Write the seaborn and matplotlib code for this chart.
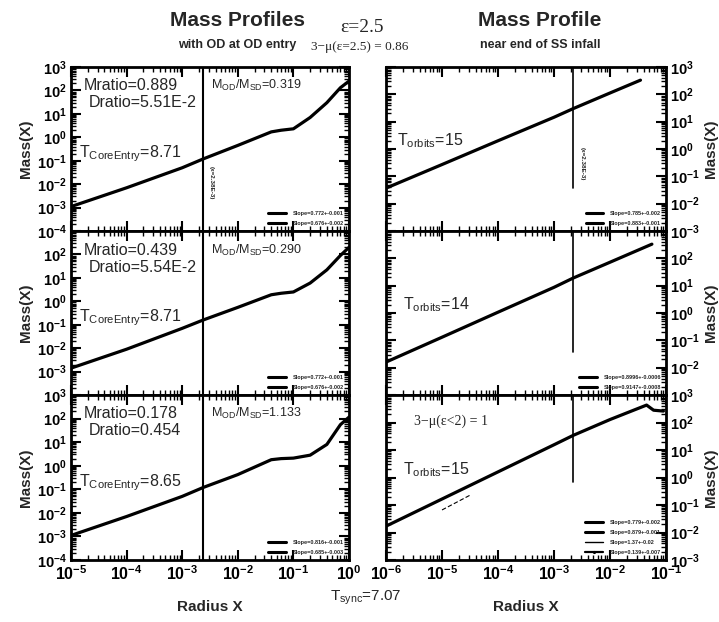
import numpy as np
import matplotlib
matplotlib.use("Agg")
import matplotlib.pyplot as plt
from matplotlib.lines import Line2D
from matplotlib.ticker import LogLocator, FixedLocator, FuncFormatter, NullFormatter
import seaborn as sns

# ---- data -------------------------------------------------------------
# Left column: profiles at core entry (radius X, enclosed mass)
r_core = [1e-5, 1e-4, 1e-3, 2.4e-3, 1e-2, 4e-2, 6e-2, 0.1, 0.2, 0.4, 0.7, 1.0]
m_core_top = [1.1e-3, 7e-3, 5e-2, 0.12, 0.45, 1.7, 2.0, 2.3, 7.0, 30, 130, 250]
m_core_mid = [1.4e-3, 9e-3, 7e-2, 0.16, 0.55, 1.9, 2.2, 2.5, 6.0, 22, 90, 200]
m_core_bot = [1.1e-3, 7e-3, 5e-2, 0.12, 0.42, 1.8, 2.0, 2.1, 2.8, 8.0, 55, 115]

# Right column: profiles near the end of infall
r_orb_top = [1e-6, 1e-5, 1e-4, 1e-3, 2.2e-3, 1e-2, 3.5e-2]
m_orb_top = [0.037, 0.27, 2.0, 14.5, 30, 112, 330]
r_orb_mid = [1e-6, 1e-5, 1e-4, 1e-3, 2.2e-3, 1e-2, 5.6e-2]
m_orb_mid = [0.016, 0.13, 1.07, 8.7, 19, 72, 330]
r_orb_bot = [1e-6, 1e-5, 1e-4, 1e-3, 2.2e-3, 1e-2, 4.5e-2, 6e-2, 9e-2]
m_orb_bot = [0.017, 0.165, 1.6, 15.5, 34, 128, 430, 280, 260]
r_orb_bot_fit = [1e-5, 3.2e-5]
m_orb_bot_fit = [0.066, 0.23]

# Core-entry radius markers
x_entry_left = 2.4e-3
x_entry_right = 2.2e-3

# Annotations
left_notes = [
    ("Mratio=0.889", "Dratio=5.51E-2", "8.71", "0.319"),
    ("Mratio=0.439", "Dratio=5.54E-2", "8.71", "0.290"),
    ("Mratio=0.178", "Dratio=0.454", "8.65", "1.133"),
]
right_torb = ["15", "14", "15"]
left_legend = [
    ["Slope=0.772+-0.001", "Slope=0.676+-0.002"],
    ["Slope=0.772+-0.001", "Slope=0.676+-0.002"],
    ["Slope=0.816+-0.001", "Slope=0.685+-0.003"],
]
right_legend = [
    ["Slope=0.785+-0.002", "Slope=0.883+-0.001"],
    ["Slope=0.8996+-0.0006", "Slope=0.9147+-0.0008"],
    ["Slope=0.779+-0.002", "Slope=0.879+-0.001", "Slope=1.37+-0.02", "Slope=0.139+-0.007"],
]

# ---- style ------------------------------------------------------------
sns.set_style("ticks")
plt.rcParams["font.family"] = ["Liberation Sans", "DejaVu Sans"]
plt.rcParams["mathtext.fontset"] = "custom"
plt.rcParams["mathtext.rm"] = "Liberation Sans"
plt.rcParams["mathtext.it"] = "Liberation Sans"
plt.rcParams["mathtext.bf"] = "Liberation Sans:bold"

fig = plt.figure(figsize=(7.19, 6.22), dpi=100)
W, H = 719.0, 622.0
rows = [(67, 231), (231, 395), (395, 560)]
cols = [(71, 349), (386, 666)]


def make_ax(col, row):
    x0, x1 = cols[col]
    y0, y1 = rows[row]
    return fig.add_axes([x0 / W, 1 - y1 / H, (x1 - x0) / W, (y1 - y0) / H])


def pow_fmt(v, pos):
    e = int(round(np.log10(v)))
    return r"$\mathbf{10^{%d}}$" % e


def style_log(ax, xlim, ylim, inner_only=False, right=False, show_x=False):
    ax.set_xscale("log")
    ax.set_yscale("log")
    ax.set_xlim(*xlim)
    ax.set_ylim(*ylim)
    lo, hi = int(round(np.log10(ylim[0]))), int(round(np.log10(ylim[1])))
    ax.xaxis.set_major_locator(LogLocator(base=10, numticks=20))
    if inner_only:
        # the end decades sit on the panel borders and are labelled by the neighbours
        ax.yaxis.set_major_locator(FixedLocator([10.0 ** e for e in range(lo + 1, hi)]))
    else:
        ax.yaxis.set_major_locator(LogLocator(base=10, numticks=20))
    ax.xaxis.set_minor_locator(LogLocator(base=10, subs=np.arange(2, 10), numticks=50))
    ax.yaxis.set_minor_locator(LogLocator(base=10, subs=np.arange(2, 10), numticks=50))
    ax.yaxis.set_major_formatter(FuncFormatter(pow_fmt))
    ax.yaxis.set_minor_formatter(NullFormatter())
    if show_x:
        ax.xaxis.set_major_formatter(FuncFormatter(pow_fmt))
    else:
        ax.xaxis.set_major_formatter(NullFormatter())
    ax.xaxis.set_minor_formatter(NullFormatter())
    ax.tick_params(which="both", direction="in", top=True, bottom=True,
                   left=True, right=True, colors="black")
    ax.tick_params(which="major", length=7, width=1.5, labelsize=10.5, pad=3)
    ax.tick_params(axis="x", which="major", labelsize=11.5)
    ax.tick_params(which="minor", length=3.5, width=1.0)
    if right:
        ax.tick_params(axis="y", labelleft=False, labelright=True)
    for s in ax.spines.values():
        s.set_linewidth(2.0)
        s.set_color("black")
    ax.set_facecolor("white")


lw_curve = 2.3

# ---- left column ------------------------------------------------------
left_data = [m_core_top, m_core_mid, m_core_bot]
for i in range(3):
    ax = make_ax(0, i)
    sns.lineplot(x=r_core, y=left_data[i], ax=ax, color="black", lw=lw_curve,
                 sort=True, estimator=None)
    ax.axvline(x_entry_left, color="black", lw=1.5)
    style_log(ax, (1e-5, 1.0), (1e-4, 1e3), inner_only=(i == 1), show_x=(i == 2))
    ax.set_ylabel("Mass(X)", fontsize=11, fontweight="bold", labelpad=3)
    mr, dr, tc, mo = left_notes[i]
    yoff = [0.0, 0.01, 0.0][i]
    ax.text(0.045, 0.89 - yoff, mr, transform=ax.transAxes, fontsize=11.5,
            va="center", ha="left")
    ax.text(0.065, 0.785 - yoff, dr, transform=ax.transAxes, fontsize=11.5,
            va="center", ha="left")
    ax.text(0.03, 0.47, r"T$_{\rm CoreEntry}$=" + tc, transform=ax.transAxes,
            fontsize=11.5, va="center", ha="left")
    ax.text(0.505, 0.89 - yoff, r"M$_{\rm OD}$/M$_{\rm SD}$=" + mo,
            transform=ax.transAxes, fontsize=9, va="center", ha="left")
    handles = [Line2D([], [], color="black", lw=2.2) for _ in left_legend[i]]
    ax.legend(handles, left_legend[i], loc="lower right",
              frameon=False, handlelength=3.2, handletextpad=1.2,
              labelspacing=0.9, borderaxespad=0.5,
              prop={"size": 4, "weight": "bold"})
    if i == 0:
        ax.text(x_entry_left * 1.25, 0.12e-1, "(x=2.38E-3)", rotation=-90,
                fontsize=4.5, fontweight="bold", va="center", ha="left")
    if i == 2:
        ax.set_xlabel("Radius X", fontsize=11, fontweight="bold", labelpad=12)

# ---- right column -----------------------------------------------------
right_x = [r_orb_top, r_orb_mid, r_orb_bot]
right_y = [m_orb_top, m_orb_mid, m_orb_bot]
vline_min = [0.26, 0.26, 0.47]
for i in range(3):
    ax = make_ax(1, i)
    sns.lineplot(x=right_x[i], y=right_y[i], ax=ax, color="black", lw=lw_curve,
                 sort=False, estimator=None)
    if i == 2:
        sns.lineplot(x=r_orb_bot_fit, y=m_orb_bot_fit, ax=ax, color="black",
                     lw=0.8, linestyle=(0, (4, 2)), sort=False, estimator=None)
    ax.axvline(x_entry_right, ymin=vline_min[i], ymax=1.0, color="black", lw=1.2)
    style_log(ax, (1e-6, 1e-1), (1e-3, 1e3), inner_only=(i == 1), right=True,
              show_x=(i == 2))
    ax.yaxis.set_label_position("right")
    ax.set_ylabel("Mass(X)", fontsize=11, fontweight="bold", labelpad=3)
    ax.text(0.04 + 0.02 * (i > 0), 0.55, r"T$_{\rm orbits}$=" + right_torb[i],
            transform=ax.transAxes, fontsize=11.5, va="center", ha="left")
    if i == 2:
        ax.text(0.1, 0.84, "3\u2212\u03bc(\u03b5<2) = 1", transform=ax.transAxes,
                fontsize=10, family=["Liberation Serif", "DejaVu Serif"],
                va="center", ha="left")
        styles = [dict(lw=2.2), dict(lw=2.2), dict(lw=1.0),
                  dict(lw=1.6, marker=".", markersize=2.5)]
    else:
        styles = [dict(lw=2.2), dict(lw=2.2)]
    handles = [Line2D([], [], color="black", **s) for s in styles]
    ax.legend(handles, right_legend[i], loc="lower right",
              frameon=False, handlelength=3.2, handletextpad=1.2,
              labelspacing=0.9, borderaxespad=0.5,
              prop={"size": 4, "weight": "bold"})
    if i == 0:
        ax.text(x_entry_right * 1.3, 0.3, "(x=2.38E-3)", rotation=-90,
                fontsize=4.5, fontweight="bold", va="center", ha="left")
    if i == 2:
        ax.set_xlabel("Radius X", fontsize=11, fontweight="bold", labelpad=12)

# ---- headings ---------------------------------------------------------
fig.text(237 / W, 1 - 21 / H, "Mass Profiles", fontsize=15, fontweight="bold",
         ha="center", va="center")
fig.text(237 / W, 1 - 45 / H, "with OD at OD entry", fontsize=9,
         fontweight="bold", ha="center", va="center")
fig.text(540 / W, 1 - 21 / H, "Mass Profile", fontsize=15, fontweight="bold",
         ha="center", va="center")
fig.text(540 / W, 1 - 45 / H, "near end of SS infall", fontsize=9,
         fontweight="bold", ha="center", va="center")
fig.text(362 / W, 1 - 28 / H, "\u03b5=2.5", fontsize=14,
         family=["Liberation Serif", "DejaVu Serif"], ha="center", va="center")
fig.text(360 / W, 1 - 47 / H, "3\u2212\u03bc(\u03b5=2.5) = 0.86", fontsize=9.5,
         family=["Liberation Serif", "DejaVu Serif"], ha="center", va="center")
fig.text(366 / W, 1 - 598 / H, r"T$_{\rm sync}$=7.07", fontsize=11,
         ha="center", va="center")

fig.savefig("out.png", dpi=100, facecolor="white")
